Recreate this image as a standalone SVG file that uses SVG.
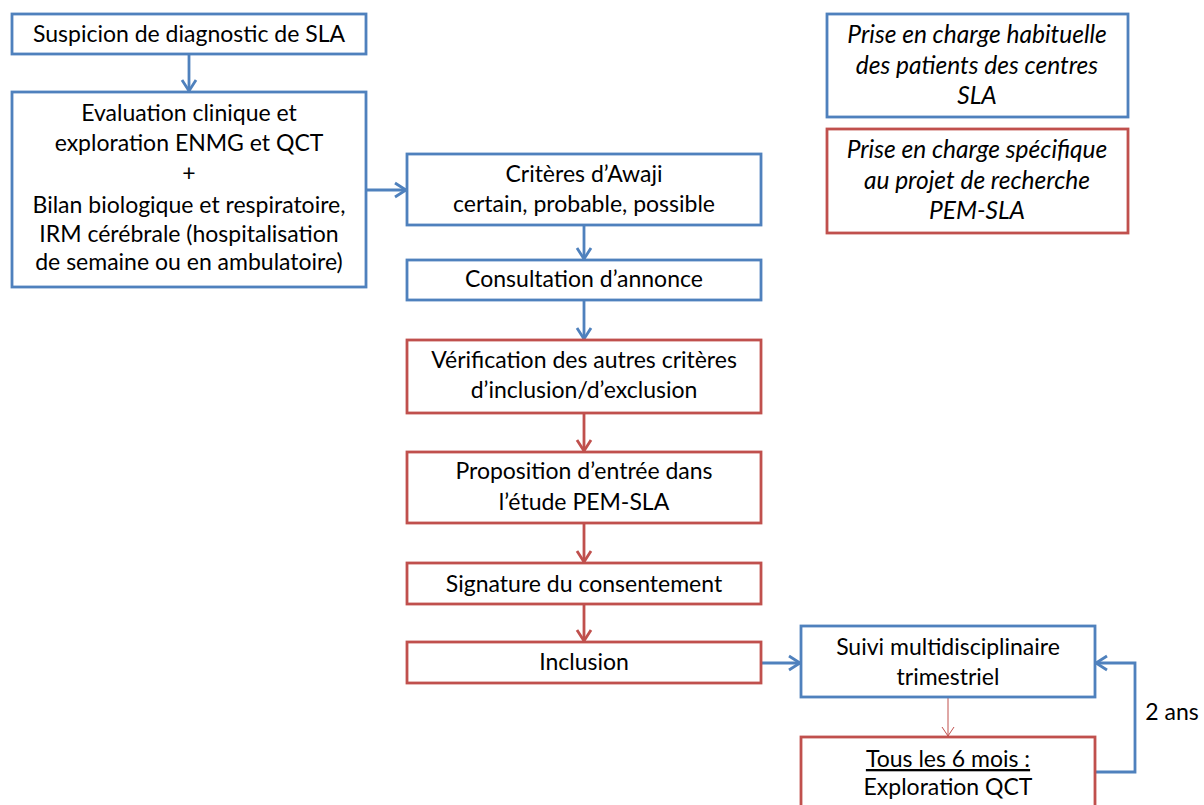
<svg xmlns="http://www.w3.org/2000/svg" width="1204" height="805" viewBox="0 0 1204 805">
  <style>
    .b { fill: #ffffff; stroke: #4f81bd; stroke-width: 2.8; }
    .r { fill: #ffffff; stroke: #c0504d; stroke-width: 2.8; }
    text { font-family: Lato, "Open Sans", "Liberation Sans", sans-serif; font-size: 23px; fill: #000000; text-anchor: middle; }
    .it { font-style: italic; font-size: 24.5px; }
    .cb { fill: none; stroke: #4f81bd; stroke-width: 2.8; }
    .cr { fill: none; stroke: #c0504d; stroke-width: 2.8; }
    .ct { fill: none; stroke: #c0504d; stroke-width: 1; }
  </style>
  <defs>
    <marker id="mb" markerUnits="userSpaceOnUse" markerWidth="16" markerHeight="18" viewBox="0 0 16 18" refX="13" refY="9" orient="auto">
      <path d="M2,2 L13,9 L2,16" fill="none" stroke="#4f81bd" stroke-width="2.8"/>
    </marker>
    <marker id="mr" markerUnits="userSpaceOnUse" markerWidth="16" markerHeight="18" viewBox="0 0 16 18" refX="13" refY="9" orient="auto">
      <path d="M2,2 L13,9 L2,16" fill="none" stroke="#c0504d" stroke-width="2.8"/>
    </marker>
    <marker id="mt" markerUnits="userSpaceOnUse" markerWidth="12" markerHeight="14" viewBox="0 0 12 14" refX="10" refY="7" orient="auto">
      <path d="M1,1 L10,7 L1,13" fill="none" stroke="#c0504d" stroke-width="1"/>
    </marker>
  </defs>

  <g id="connectors">
    <line class="cb" x1="189" y1="54" x2="189" y2="91" marker-end="url(#mb)"/>
    <line class="cb" x1="366" y1="190" x2="406" y2="190" marker-end="url(#mb)"/>
    <line class="cb" x1="584" y1="225" x2="584" y2="259" marker-end="url(#mb)"/>
    <line class="cb" x1="584" y1="300" x2="584" y2="339" marker-end="url(#mb)"/>
    <line class="cr" x1="584" y1="413" x2="584" y2="451" marker-end="url(#mr)"/>
    <line class="cr" x1="584" y1="523" x2="584" y2="562" marker-end="url(#mr)"/>
    <line class="cr" x1="584" y1="604" x2="584" y2="641" marker-end="url(#mr)"/>
    <line class="cb" x1="761" y1="663" x2="800" y2="663" marker-end="url(#mb)"/>
    <line class="ct" x1="948" y1="697" x2="948" y2="736" marker-end="url(#mt)"/>
    <polyline class="cb" points="1095,772 1135,772 1135,663 1096,663" marker-end="url(#mb)"/>
    <text x="1172" y="720">2 ans</text>
  </g>

  <g id="n1">
    <rect class="b" x="12" y="14" width="354" height="40"/>
    <text x="189" y="42">Suspicion de diagnostic de SLA</text>
  </g>
  <g id="n2">
    <rect class="b" x="12" y="92" width="354" height="195"/>
    <text x="189" y="121">Evaluation clinique et</text>
    <text x="189" y="151">exploration ENMG et QCT</text>
    <text x="189" y="181">+</text>
    <text x="189" y="213">Bilan biologique et respiratoire,</text>
    <text x="189" y="242">IRM cérébrale (hospitalisation</text>
    <text x="189" y="270">de semaine ou en ambulatoire)</text>
  </g>
  <g id="n3">
    <rect class="b" x="407" y="154" width="354" height="71"/>
    <text x="584" y="182">Critères d’Awaji</text>
    <text x="584" y="212">certain, probable, possible</text>
  </g>
  <g id="n4">
    <rect class="b" x="407" y="260" width="354" height="40"/>
    <text x="584" y="287">Consultation d’annonce</text>
  </g>
  <g id="n5">
    <rect class="r" x="407" y="340" width="354" height="73"/>
    <text x="584" y="368">Vérification des autres critères</text>
    <text x="584" y="398">d’inclusion/d’exclusion</text>
  </g>
  <g id="n6">
    <rect class="r" x="407" y="452" width="354" height="71"/>
    <text x="584" y="479">Proposition d’entrée dans</text>
    <text x="584" y="510">l’étude PEM-SLA</text>
  </g>
  <g id="n7">
    <rect class="r" x="407" y="563" width="354" height="41"/>
    <text x="584" y="592">Signature du consentement</text>
  </g>
  <g id="n8">
    <rect class="r" x="407" y="642" width="354" height="41"/>
    <text x="584" y="670">Inclusion</text>
  </g>
  <g id="n9">
    <rect class="b" x="801" y="626" width="294" height="71"/>
    <text x="948" y="655">Suivi multidisciplinaire</text>
    <text x="948" y="685">trimestriel</text>
  </g>
  <g id="n10">
    <rect class="r" x="801" y="737" width="294" height="90"/>
    <text x="948" y="767" text-decoration="underline">Tous les 6 mois :</text>
    <text x="948" y="795">Exploration QCT</text>
  </g>
  <g id="legend-blue">
    <rect class="b" x="827" y="14" width="301" height="103"/>
    <text class="it" x="977" y="43">Prise en charge habituelle</text>
    <text class="it" x="977" y="74">des patients des centres</text>
    <text class="it" x="977" y="104">SLA</text>
  </g>
  <g id="legend-red">
    <rect class="r" x="827" y="129" width="301" height="104"/>
    <text class="it" x="977" y="158">Prise en charge spécifique</text>
    <text class="it" x="977" y="189">au projet de recherche</text>
    <text class="it" x="977" y="219">PEM-SLA</text>
  </g>
</svg>
